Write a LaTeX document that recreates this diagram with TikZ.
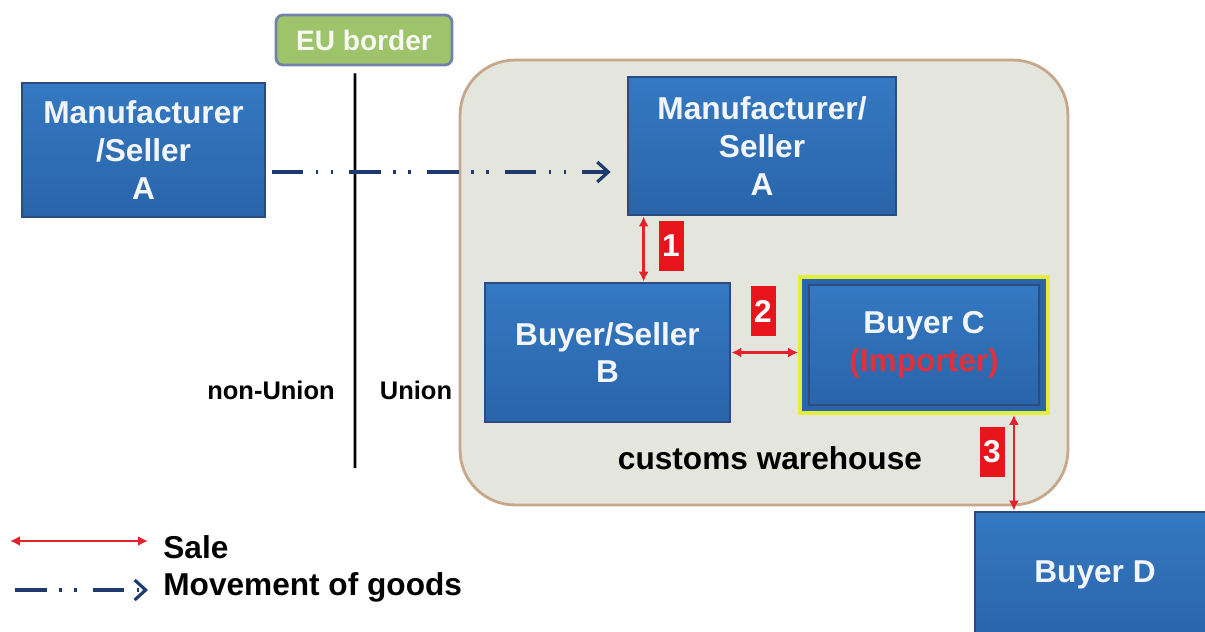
\documentclass[tikz,border=0pt]{standalone}
\usepackage{fontspec}
\setmainfont{Liberation Sans}
\usetikzlibrary{arrows.meta,positioning,calc}
\definecolor{BoxTop}{HTML}{3479C2}
\definecolor{BoxBot}{HTML}{2A64AA}
\definecolor{BoxEdge}{HTML}{2B4C7E}
\definecolor{BoxText}{HTML}{F2F6FB}
\definecolor{SaleRed}{HTML}{E3222C}
\definecolor{TagRed}{HTML}{E8141C}
\definecolor{Navy}{HTML}{1F3A6E}
\definecolor{Leaf}{HTML}{9DC36B}
\definecolor{LeafEdge}{HTML}{7283AA}
\definecolor{Store}{HTML}{E4E5DC}
\definecolor{StoreEdge}{HTML}{C6A78A}
\definecolor{Frame}{HTML}{E6EE3A}
\definecolor{Importer}{HTML}{E0303A}
\tikzset{
  party/.style={
    draw=BoxEdge,line width=1.6pt,top color=BoxTop,bottom color=BoxBot,
    text=BoxText,font=\bfseries\fontsize{18}{21.5}\selectfont,
    align=center,inner sep=0pt
  },
  frame/.style={
    draw=Frame,line width=2.2pt,fill=BoxBot,inner sep=0pt,
    minimum width=4.96cm,minimum height=2.72cm
  },
  sale/.style={{Latex[length=2mm,width=2mm]}-{Latex[length=2mm,width=2mm]},line width=1.5pt,draw=SaleRed},
  goods/.style={-{Straight Barb[length=2.2mm,width=4mm,line width=1.8pt]},line width=2.2pt,draw=Navy,
    dash pattern=on 18pt off 7pt on 1.6pt off 7pt on 1.6pt off 9pt},
  numtag/.style={
    fill=TagRed,text=white,font=\bfseries\fontsize{18}{20}\selectfont,
    minimum width=0.5cm,minimum height=1cm,inner sep=0pt
  },
  plain/.style={text=black,font=\bfseries\fontsize{18}{20}\selectfont,inner sep=0pt}
}
\begin{document}
\begin{tikzpicture}[x=0.02cm,y=-0.02cm]
  \useasboundingbox (0,0) rectangle (1205,632);
  \clip (0,0) rectangle (1205,632);
  % customs warehouse
  \node[draw=StoreEdge,line width=1.6pt,fill=Store,rounded corners=1.1cm,
    minimum width=12.16cm,minimum height=8.9cm] (store) at (764,282.5) {};
  \node[plain] (storeTxt) at (770,458) {customs warehouse};
  % EU border
  \node[draw=LeafEdge,line width=1.6pt,fill=Leaf,rounded corners=4pt,
    minimum width=3.52cm,minimum height=1cm,text=white!92!Leaf,
    font=\bfseries\fontsize{16}{18}\selectfont] (euTag) at (364,40) {EU border};
  \coordinate (borderEnd) at (355,468);
  \draw[line width=1.6pt] ([xshift=-0.18cm,yshift=-0.14cm]euTag.south) -- (borderEnd);
  \node[plain,font=\bfseries\fontsize{14.5}{16}\selectfont] (nonUnion) at (271,390) {non-Union};
  \node[plain,font=\bfseries\fontsize{14.5}{16}\selectfont] (union) at (416,390) {Union};
  % parties
  \node[party,minimum width=4.86cm,minimum height=2.68cm] (mfrL) at (143.5,150)
    {Manufacturer\\/Seller\\A};
  \node[party,minimum width=5.36cm,minimum height=2.76cm] (mfrU) at (762,146)
    {Manufacturer/\\Seller\\A};
  \node[party,minimum width=4.9cm,minimum height=2.78cm] (buyerB) at (607.5,352.5)
    {Buyer/Seller\\B};
  \node[frame] (cframe) at (924,345) {};
  \node[party,minimum width=4.6cm,minimum height=2.4cm] (buyerC) at (cframe)
    {Buyer C\\\textcolor{Importer}{(Importer)}};
  \node[party,minimum width=4.8cm,minimum height=2.52cm] (buyerD) at (1095,575)
    {Buyer D};
  % movement of goods
  \draw[goods,shorten <=3pt,shorten >=0.32cm] ([yshift=-0.44cm]mfrL.east)
    -- ([yshift=-0.44cm]mfrL.east -| mfrU.west);
  % sales
  \draw[sale] ([xshift=0.34cm]mfrU.south west) -- ([xshift=0.34cm]mfrU.south west |- buyerB.north);
  \node[numtag] (tag1) at (671,246) {1};
  \draw[sale] (buyerB.east) -- (buyerB.east -| cframe.west);
  \node[numtag] (tag2) at (763,311) {2};
  \draw[sale] ([xshift=-0.72cm]cframe.south east) -- ([xshift=-0.72cm]cframe.south east |- buyerD.north);
  \node[numtag] (tag3) at (992,452) {3};
  % legend
  \node[plain,anchor=west] (saleTxt) at (163,547) {Sale};
  \node[plain,anchor=west] (goodsTxt) at (163,587) {Movement of goods};
  \coordinate (saleA) at (10,541);
  \coordinate (saleB) at (148,541);
  \draw[sale] (saleA) -- (saleB);
  \coordinate (goodsA) at (15,590);
  \coordinate (goodsB) at (148,590);
  \draw[goods] (goodsA) -- (goodsB);
\end{tikzpicture}
\end{document}
